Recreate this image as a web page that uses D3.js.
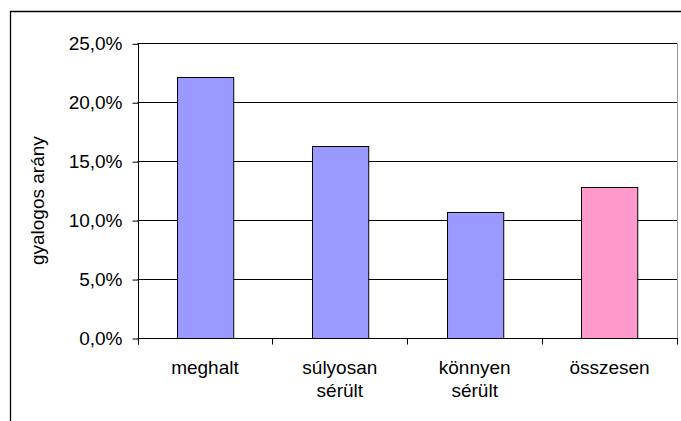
<!DOCTYPE html>
<html>
<head>
<meta charset="utf-8">
<script src="https://cdn.jsdelivr.net/npm/d3@7"></script>
<style>
  html, body { margin: 0; padding: 0; background: #fff; }
  svg { display: block; font-family: Arial, "Liberation Sans", sans-serif; }
</style>
</head>
<body>
<svg id="chart" width="681" height="421"></svg>
<script>
// Gyalogosok aránya sérülési kategóriánként
const categories = [["meghalt"], ["súlyosan", "sérült"], ["könnyen", "sérült"], ["összesen"]];
const values = [22.1, 16.3, 10.7, 12.8];
const barColors = ["#9999FF", "#9999FF", "#9999FF", "#FF99CC"];
const yTicks = [0, 5, 10, 15, 20, 25];
const yTitle = "gyalogos arány";

const svg = d3.select("#chart");
const W = 681, H = 421;
const plot = { left: 137.5, right: 677, top: 43.3, bottom: 338 };

const huLocale = d3.formatLocale({ decimal: ",", thousands: " ", grouping: [3], currency: ["", " Ft"] });
const fmt = v => huLocale.format(".1f")(v) + "%";

const keys = categories.map((c, i) => i);

const y = d3.scaleLinear().domain([0, 25]).range([plot.bottom, plot.top]);
const xCat = d3.scaleBand().domain(keys).range([plot.left, plot.right]).padding(0);
const xBar = d3.scaleBand().domain(keys).range([plot.left, plot.right])
  .paddingInner(0.583).paddingOuter(0.2915);

// outer chart frame
svg.append("path")
  .attr("d", `M10.5,${H} V11.5 H${W}`)
  .attr("fill", "none").attr("stroke", "#000").attr("stroke-width", 1.3);

// plot area border (right side)
svg.append("line")
  .attr("x1", plot.right + 0.5).attr("x2", plot.right + 0.5)
  .attr("y1", plot.top).attr("y2", plot.bottom)
  .attr("stroke", "#999").attr("stroke-width", 1);

// horizontal gridlines
svg.append("g").selectAll("line").data(yTicks.filter(t => t > 0)).join("line")
  .attr("x1", plot.left).attr("x2", plot.right)
  .attr("y1", d => Math.round(y(d)) + 0.5).attr("y2", d => Math.round(y(d)) + 0.5)
  .attr("stroke", "#000").attr("stroke-width", 1);

// bars
svg.append("g").selectAll("rect").data(values).join("rect")
  .attr("x", (d, i) => Math.round(xBar(i)) + 0.5)
  .attr("y", d => Math.round(y(d)) + 0.5)
  .attr("width", xBar.bandwidth())
  .attr("height", d => Math.round(y(0)) - Math.round(y(d)))
  .attr("fill", (d, i) => barColors[i])
  .attr("stroke", "#000").attr("stroke-width", 1);

// y axis
const yAxis = d3.axisLeft(y).tickValues(yTicks).tickFormat(fmt).tickSize(6).tickPadding(10);
const gy = svg.append("g").attr("transform", `translate(${Math.round(plot.left) + 0.5},0.5)`).call(yAxis);
gy.select(".domain").attr("d", `M0,${plot.top}V${plot.bottom + 6}`).attr("stroke", "#000");
gy.selectAll(".tick line").attr("stroke", "#000");
gy.selectAll(".tick text").attr("font-size", 19).attr("fill", "#000")
  .attr("font-family", "Arial, 'Liberation Sans', sans-serif");

// x axis: ticks at category boundaries
const boundaries = keys.map(k => xCat(k)).concat([plot.right]);
const gx = svg.append("g");
gx.append("line")
  .attr("x1", plot.left).attr("x2", plot.right)
  .attr("y1", Math.round(plot.bottom) + 0.5).attr("y2", Math.round(plot.bottom) + 0.5)
  .attr("stroke", "#000");
gx.selectAll("line.tk").data(boundaries).join("line").attr("class", "tk")
  .attr("x1", d => Math.round(d) + 0.5).attr("x2", d => Math.round(d) + 0.5)
  .attr("y1", plot.bottom).attr("y2", plot.bottom + 6.5)
  .attr("stroke", "#000");

// category labels
const lab = gx.selectAll("text").data(categories).join("text")
  .attr("text-anchor", "middle")
  .attr("font-size", 19).attr("fill", "#000")
  .attr("transform", (d, i) => `translate(${xCat(i) + xCat.bandwidth() / 2},374)`);
lab.selectAll("tspan").data(d => d).join("tspan")
  .attr("x", 0).attr("y", (d, j) => j * 22.7)
  .text(d => d);

// y axis title
svg.append("text")
  .attr("transform", `translate(44,${(plot.top + plot.bottom) / 2 + 10}) rotate(-90)`)
  .attr("text-anchor", "middle")
  .attr("font-size", 19).attr("fill", "#000")
  .text(yTitle);
</script>
</body>
</html>
